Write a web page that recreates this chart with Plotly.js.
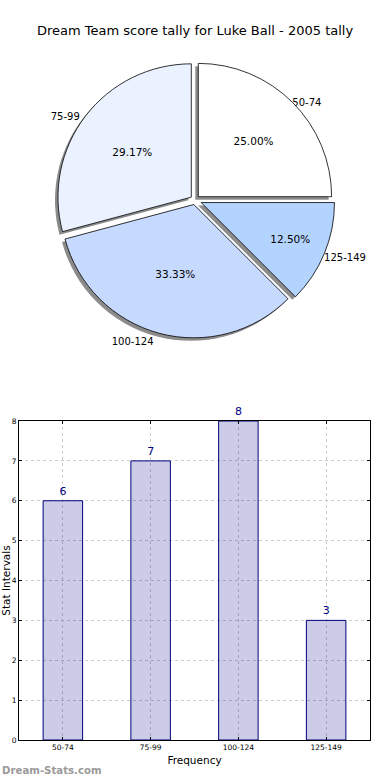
<!DOCTYPE html>
<html>
<head>
<meta charset="utf-8">
<script src="https://cdn.plot.ly/plotly-3.0.1.min.js"></script>
<style>html,body{margin:0;padding:0;background:#fff;}#chart{width:390px;height:780px;}</style>
</head>
<body>
<div id="chart"></div>
<script>
// ---- data ----
const categories = ["50-74", "75-99", "100-124", "125-149"];
const counts = [6, 7, 8, 3];
const sliceColors = ["#ffffff", "#eaf1ff", "#c6d9ff", "#b3d4ff"];
const yTicks = [0, 1, 2, 3, 4, 5, 6, 7, 8];
const titleText = "Dream Team score tally for Luke Ball - 2005 tally";

const W = 390, H = 780;
const FONT = "DejaVu Sans";
const pull = [0.035, 0.035, 0.035, 0.05];

// pie domain (pixels -> paper)
const cx = 195, cy = 200, half = 140;
function dom(dx, dy) {
  return {
    x: [(cx - half + dx) / W, (cx + half + dx) / W],
    y: [1 - (cy + half + dy) / H, 1 - (cy - half + dy) / H]
  };
}

const shadow = {
  type: "pie",
  labels: categories,
  values: counts,
  sort: false,
  direction: "counterclockwise",
  rotation: 0,
  pull: pull,
  domain: dom(-3, 3),
  marker: {colors: categories.map(() => "rgba(0,0,0,0.45)"), line: {width: 0}},
  textinfo: "label",
  textposition: "outside",
  outsidetextfont: {family: FONT, size: 10, color: "#000"},
  hoverinfo: "skip",
  showlegend: false
};

const pie = {
  type: "pie",
  labels: categories,
  values: counts,
  sort: false,
  direction: "counterclockwise",
  rotation: 0,
  pull: pull,
  domain: dom(0, 0),
  marker: {colors: sliceColors, line: {color: "#000", width: 0.8}},
  texttemplate: "%{percent:.2%}",
  textposition: "inside",
  insidetextorientation: "horizontal",
  insidetextfont: {family: FONT, size: 10.5, color: "#000"},
  showlegend: false
};

const bars = {
  type: "bar",
  x: categories,
  y: counts,
  width: 0.45,
  marker: {color: "rgba(0,0,128,0.2)", line: {color: "#000080", width: 1}},
  text: counts.map(String),
  textposition: "outside",
  cliponaxis: false,
  textfont: {family: FONT, size: 11, color: "#000080"},
  xaxis: "x",
  yaxis: "y",
  showlegend: false
};

const layout = {
  width: W,
  height: H,
  margin: {l: 0, r: 0, t: 0, b: 0},
  paper_bgcolor: "#fff",
  plot_bgcolor: "#fff",
  font: {family: FONT, color: "#000"},
  title: {text: titleText, font: {family: FONT, size: 13, color: "#000"}, x: 0.5, xanchor: "center", y: 1 - 30 / H, yanchor: "middle"},
  xaxis: {
    domain: [19 / W, 370 / W],
    anchor: "y",
    type: "category",
    range: [-0.5, 3.5],
    showline: true, linecolor: "#000", linewidth: 1, mirror: "ticks",
    ticks: "inside", ticklen: 3, tickcolor: "#000",
    showgrid: true, gridcolor: "#cccccc", griddash: "dot", gridwidth: 1,
    tickfont: {family: FONT, size: 7.5, color: "#000"},
    title: {text: "Frequency", font: {family: FONT, size: 10.5, color: "#000"}, standoff: 5},
    automargin: false,
    fixedrange: true
  },
  yaxis: {
    domain: [1 - 740 / H, 1 - 421 / H],
    anchor: "x",
    range: [0, 8],
    tickvals: yTicks,
    showline: true, linecolor: "#000", linewidth: 1, mirror: "ticks",
    ticks: "inside", ticklen: 3, tickcolor: "#000",
    showgrid: true, gridcolor: "#cccccc", griddash: "dot", gridwidth: 1,
    zeroline: false,
    tickfont: {family: FONT, size: 7.5, color: "#000"},
    title: {text: "Stat Intervals", font: {family: FONT, size: 10.5, color: "#000"}, standoff: 0},
    automargin: false,
    fixedrange: true
  },
  annotations: [{
    text: "<b>Dream-Stats.com</b>",
    xref: "paper", yref: "paper",
    x: 0, y: 1 - 770 / H, xanchor: "left", yanchor: "middle",
    showarrow: false,
    font: {family: FONT, size: 10.2, color: "#9a9a9a"}
  }]
};

Plotly.newPlot("chart", [shadow, pie, bars], layout, {displayModeBar: false, staticPlot: true});
</script>
</body>
</html>
